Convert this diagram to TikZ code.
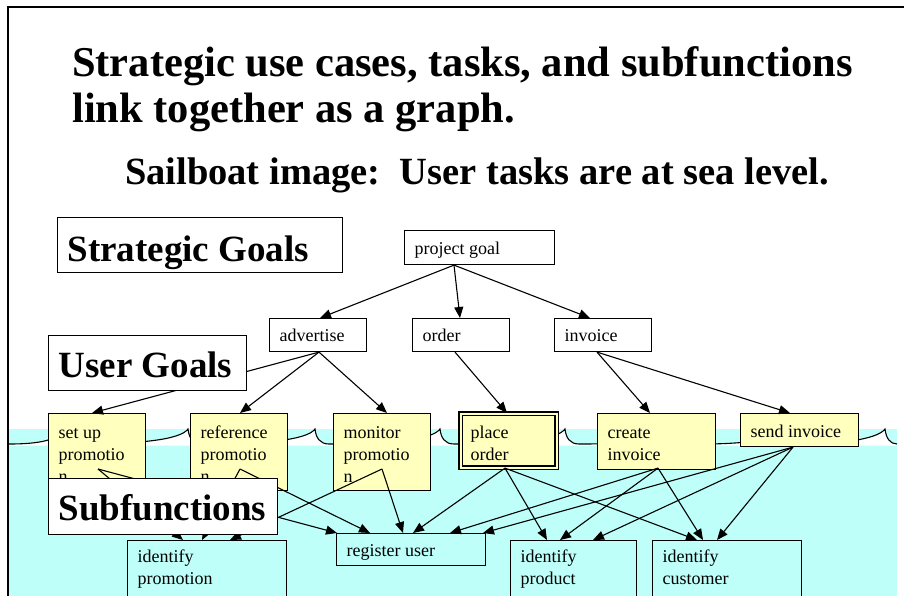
\documentclass[tikz,border=0pt]{standalone}
\usepackage{fontspec}
\setmainfont{Liberation Serif}
\usetikzlibrary{arrows.meta,calc}
\definecolor{sea}{RGB}{190,255,250}
\definecolor{ylw}{RGB}{255,255,190}
\newcommand{\boxtxt}[4]{\parbox[c][#2pt][t]{#1pt}{\raggedright\rule{0pt}{#3pt}#4}}
\begin{document}
\begin{tikzpicture}[x=1pt,y=-1pt,
  bx/.style={draw, line width=1.1pt, rectangle, anchor=north west, inner xsep=10pt, inner ysep=0pt, font=\fontsize{18}{22}\selectfont},
  yb/.style={bx, fill=ylw},
  cb/.style={bx, fill=sea},
  lb/.style={draw, line width=1.1pt, fill=white, rectangle, anchor=north west, inner xsep=10pt, inner ysep=0pt, font=\fontsize{37}{44}\selectfont\bfseries},
  ttl/.style={anchor=base west, inner sep=0pt, font=\fontsize{42.5}{47}\selectfont\bfseries},
  arr/.style={-{Triangle[length=11pt,width=9pt]}, line width=1.1pt},
  wave/.style={line width=1.1pt}
]
\useasboundingbox (0,0) rectangle (904,595);
\clip (0,0) rectangle (904,595);

% sea
\fill[sea] (9,429) rectangle (897,600);
\def\wavepath{(9,444) .. controls (40,444) and (58,440) .. (65,429)
  \foreach \a/\b in {65/188,188/315,315/440,440/565,565/690,690/790,790/885} { .. controls (\a+1,438) and (\a+5,444) .. (\a+14,444) .. controls (\b-50,444) and (\b-8,440) .. (\b,429) }
  .. controls (886,438) and (890,444) .. (897,444)}
\fill[white] \wavepath -- (897,445.5) -- (9,445.5) -- cycle;
\draw[wave] \wavepath;

% frame
\draw[line width=2pt] (7.5,600) -- (7.5,6.5) -- (910,6.5);

% titles
\node[ttl] (title1) at (72,76) {Strategic use cases, tasks, and subfunctions};
\node[ttl] (title2) at (72,122) {link together as a graph.};
\node[anchor=base, inner sep=0pt, font=\fontsize{38.5}{44}\selectfont\bfseries] (sub) at (477,184) {Sailboat image:\ \ User tasks are at sea level.};

% goal boxes
\node[lb] (sg) at (57,217) {\boxtxt{265}{55}{44}{Strategic Goals}};
\node[bx] (pg) at (404,230) {\boxtxt{130}{34}{24}{project goal}};
\node[bx] (adv) at (269,318) {\boxtxt{77}{33}{23}{advertise}};
\node[bx] (ord) at (412,318) {\boxtxt{77}{33}{23}{order}};
\node[bx] (inv) at (554,318) {\boxtxt{77}{33}{23}{invoice}};

% user tasks
\node[yb] (sup) at (48,413) {\boxtxt{77}{77}{25}{set up\\promotio\\n}};
\node[yb] (ref) at (190,413) {\boxtxt{77}{77}{25}{reference\\promotio\\n}};
\node[yb] (mon) at (333,413) {\boxtxt{77}{77}{25}{monitor\\promotio\\n}};
\node[yb, double=ylw, double distance=2pt] (po) at (460,413) {\boxtxt{76}{54}{25}{place\\order}};
\node[yb] (ci) at (597,413) {\boxtxt{98}{56}{25}{create\\invoice}};
\node[yb] (si) at (740,413) {\boxtxt{98}{33}{24}{send invoice}};

% subfunctions
\node[cb] (ip) at (127,540) {\boxtxt{139}{60}{22}{identify\\promotion}};
\node[cb] (ru) at (336,533) {\boxtxt{129}{32}{23}{register user}};
\node[cb] (ipr) at (510,540) {\boxtxt{106}{60}{22}{identify\\product}};
\node[cb] (ic) at (652,540) {\boxtxt{129}{60}{22}{identify\\customer}};

% connectors
\draw[arr] ($(pg.south west)+(50,0)$) -- ($(adv.north west)+(51,0)$);
\draw[arr] ($(pg.south west)+(50,0)$) -- ($(ord.north west)+(48,0)$);
\draw[arr] ($(pg.south west)+(50,0)$) -- ($(inv.north west)+(36,0)$);
\draw[arr] ($(adv.south west)+(50,0)$) -- ($(sup.north west)+(44,0)$);
\draw[arr] ($(adv.south west)+(50,0)$) -- ($(ref.north west)+(50,0)$);
\draw[arr] ($(adv.south west)+(50,0)$) -- ($(mon.north west)+(54,0)$);
\draw[arr] ($(ord.south west)+(43,0)$) -- ($(po.north west)+(47,0)$);
\draw[arr] ($(inv.south west)+(43,0)$) -- ($(ci.north west)+(53,0)$);
\draw[arr] ($(inv.south west)+(43,0)$) -- ($(si.north west)+(50,0)$);

\draw[arr] ($(sup.north west)+(50,56)$) -- ($(ip.north west)+(56,0)$);
\draw[arr] ($(sup.north west)+(50,56)$) -- ($(ru.north west)+(1,0)$);
\draw[arr] ($(ref.north west)+(50,56)$) -- ($(ip.north west)+(75,0)$);
\draw[arr] ($(ref.north west)+(50,56)$) -- ($(ru.north west)+(34,0)$);
\draw[arr] ($(mon.north west)+(49,56)$) -- ($(ip.north west)+(103,0)$);
\draw[arr] ($(mon.north west)+(49,56)$) -- ($(ru.north west)+(67,0)$);
\draw[arr] ($(po.south west)+(45,0)$) -- ($(ru.north west)+(77,0)$);
\draw[arr] ($(po.south west)+(45,0)$) -- ($(ipr.north west)+(37,0)$);
\draw[arr] ($(po.south west)+(45,0)$) -- ($(ic.north west)+(45,0)$);
\draw[arr] ($(ci.south west)+(61,-2)$) -- ($(ru.north west)+(114,0)$);
\draw[arr] ($(ci.south west)+(61,-2)$) -- ($(ipr.north west)+(50,0)$);
\draw[arr] ($(ci.south west)+(61,-2)$) -- ($(ic.north west)+(51,0)$);
\draw[arr] ($(si.south west)+(53,0)$) -- ($(ru.north west)+(147,0)$);
\draw[arr] ($(si.south west)+(53,0)$) -- ($(ipr.north west)+(83,0)$);
\draw[arr] ($(si.south west)+(53,0)$) -- ($(ic.north west)+(65,0)$);

% level labels on top
\node[lb] (ug) at (48,335) {\boxtxt{178}{55}{42}{User Goals}};
\node[lb] (sf) at (48,478) {\boxtxt{209}{56}{42}{Subfunctions}};
\end{tikzpicture}
\end{document}
